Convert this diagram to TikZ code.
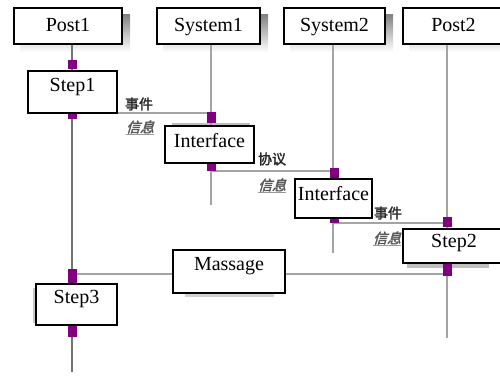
\documentclass[tikz,border=0pt]{standalone}
\usepackage{fontspec}
\setmainfont{Liberation Serif}
\newfontfamily\boxfont{Liberation Serif}
\newfontfamily\cjkbold{Noto Sans CJK SC}[FakeBold=2]
\newfontfamily\cjkslant{Noto Sans CJK SC}[FakeBold=2.5,FakeSlant=0.3]
\definecolor{act}{HTML}{800080}
\definecolor{life}{HTML}{A4A4A4}
\definecolor{shade}{HTML}{F3F2EA}
\pgfdeclarelayer{bg}
\pgfsetlayers{bg,main}
\tikzset{
  objbox/.style={draw=black, line width=2pt, fill=white, inner sep=0pt,
    anchor=north west, font=\boxfont\fontsize{20}{24}\selectfont},
  headbox/.style={objbox, text height=23pt, text depth=13pt},
  lifeline/.style={draw=life, line width=1.6pt},
  msgline/.style={draw=life, line width=2pt},
  actmark/.style={fill=act, inner sep=0pt, minimum width=9pt, anchor=north},
  evt/.style={font=\cjkbold\fontsize{14}{14}\selectfont, text=black!85, inner sep=0pt},
  info/.style={font=\cjkslant\fontsize{14}{14}\selectfont, text=black!65, inner sep=0pt},
  infoline/.style={draw=black!40, line width=1.2pt},
}
\begin{document}
\begin{tikzpicture}[x=1pt,y=-1pt]
\useasboundingbox (0,0) rectangle (500,375);
\clip (0,0) rectangle (500,375);

% participants
\node[headbox, minimum width=108pt] (post1) at (13,7) {Post1};
\node[headbox, minimum width=103pt] (sys1) at (156,7) {System1};
\node[headbox, minimum width=101pt] (sys2) at (283,7) {System2};
\node[headbox, minimum width=101pt] (post2) at (402,7) {Post2};

% lifeline ends
\coordinate (post1end) at (72,372);
\coordinate (sys1end) at (211,205);
\coordinate (sys2end) at (333,253);
\coordinate (post2end) at (447,338);

% rows of the messages
\coordinate (row1) at (0,113);
\coordinate (row2) at (0,171);
\coordinate (row3) at (0,223);
\coordinate (row4) at (0,274);

% activation marks
\node[actmark, minimum height=9pt] (p1a) at (72,60) {};
\node[actmark, minimum height=11pt] (p1b) at (72,108) {};
\node[actmark, minimum height=11pt] (s1a) at (211,112) {};
\node[actmark, minimum height=10pt] (s1b) at (211,161) {};
\node[actmark, minimum height=10pt] (s2a) at (334,168) {};
\node[actmark, minimum height=9pt] (s2b) at (334,214) {};
\node[actmark, minimum height=10pt] (p2a) at (447,217) {};
\node[actmark, minimum height=13pt] (p2b) at (447,263) {};
\node[actmark, minimum height=14pt] (p1c) at (72,269) {};
\node[actmark, minimum height=13pt] (p1d) at (72,324) {};

% steps
\node[objbox, minimum width=89pt, text height=20pt, text depth=22pt] (step1) at (27,70) {Step1};
\node[objbox, minimum width=89pt, text height=21pt, text depth=16pt] (iface1) at (164,125) {Interface};
\node[objbox, minimum width=77pt, text height=21pt, text depth=18pt] (iface2) at (294,178) {Interface};
\node[objbox, minimum width=102pt, text height=18pt, text depth=16pt] (step2) at (402,228) {Step2};
\node[objbox, minimum width=112pt, text height=20pt, text depth=23pt] (massage) at (172,249) {Massage};
\node[objbox, minimum width=81pt, text height=19pt, text depth=22pt] (step3) at (35,283) {Step3};

% message labels
\node[evt] (evt1) at (139,104) {事件};
\node[info] (info1) at (140,127) {信息};
\node[evt] (prot1) at (272,159) {协议};
\node[info] (info2) at (272,185) {信息};
\node[evt] (evt2) at (388,213) {事件};
\node[info] (info3) at (387,238) {信息};

\begin{pgfonlayer}{bg}
  % shadows of the boxes
  \foreach \b in {post1,sys1,sys2,post2}
    \fill[shade] ([xshift=7pt,yshift=-7pt]\b.north west) rectangle ([xshift=7pt,yshift=-7pt]\b.south east);
  \fill[black!25] ([xshift=5pt]step2.south west) rectangle ([xshift=-17pt,yshift=-4pt]step2.south east);
  \fill[black!18] ([xshift=13pt]massage.south west) rectangle ([xshift=-12pt,yshift=-3pt]massage.south east);
  \fill[black!25] ([xshift=8pt]iface1.north west) rectangle ([xshift=-5pt,yshift=2pt]iface1.north east);
  \fill[black!22] ([yshift=-5pt]step3.north west) rectangle ([xshift=-2pt,yshift=3pt]step3.south west);
  % lifelines
  \draw[lifeline, draw=black!55] (post1end |- post1.south) -- (post1end);
  \draw[lifeline] (sys1end |- sys1.south) -- (sys1end);
  \draw[lifeline] (sys2end |- sys2.south) -- (sys2end);
  \draw[lifeline] (post2end |- post2.south) -- (post2end);
  % messages
  \draw[msgline] (p1b |- row1) -- (s1a |- row1);
  \draw[msgline] (s1b |- row2) -- (s2a |- row2);
  \draw[msgline] (s2b |- row3) -- (p2a |- row3);
  \draw[msgline] (p1c |- row4) -- (p2b |- row4);
  % underlines of the labels
  \foreach \l in {info1,info2,info3}
    \draw[infoline] ([yshift=-1pt]\l.south west) -- ([yshift=-1pt]\l.south east);
\end{pgfonlayer}
\end{tikzpicture}
\end{document}
